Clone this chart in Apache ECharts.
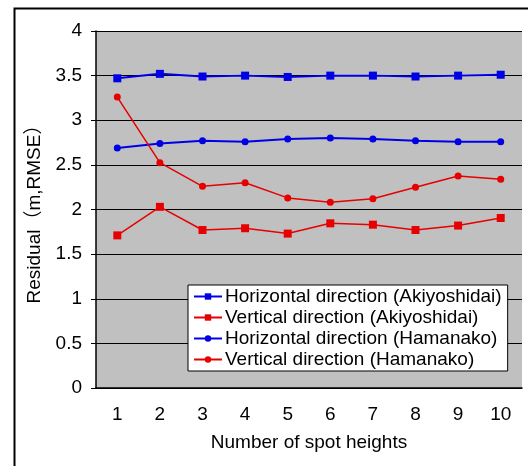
<!DOCTYPE html>
<html>
<head>
<meta charset="utf-8">
<script src="https://cdn.jsdelivr.net/npm/echarts@6/dist/echarts.min.js"></script>
<style>html,body{margin:0;padding:0;background:#fff}#c{width:528px;height:466px}</style>
</head>
<body>
<div id="c"></div>
<script>
var categories = ['1','2','3','4','5','6','7','8','9','10'];
var horizAkiyoshidai = [3.47, 3.52, 3.49, 3.50, 3.485, 3.50, 3.50, 3.49, 3.50, 3.51];
var vertAkiyoshidai = [1.71, 2.03, 1.77, 1.79, 1.73, 1.845, 1.83, 1.77, 1.82, 1.905];
var horizHamanako = [2.69, 2.74, 2.77, 2.76, 2.79, 2.80, 2.79, 2.77, 2.76, 2.76];
var vertHamanako = [3.26, 2.525, 2.26, 2.30, 2.13, 2.08, 2.12, 2.25, 2.375, 2.34];
var seriesNames = ['Horizontal direction (Akiyoshidai)', 'Vertical direction (Akiyoshidai)', 'Horizontal direction (Hamanako)', 'Vertical direction (Hamanako)'];
var yTicks = ['0','0.5','1','1.5','2','2.5','3','3.5','4'];

var FONT = '"Liberation Sans", Arial, "Noto Sans CJK JP", sans-serif';
var chart = echarts.init(document.getElementById('c'));
function mk(name, data, color, symbol, size, lw) {
  return {
    name: name, type: 'line', data: data, symbol: symbol, symbolSize: size,
    itemStyle: {color: color}, lineStyle: {color: color, width: lw},
    emphasis: {disabled: true}, animation: false, z: 3
  };
}
chart.setOption({
  animation: false,
  textStyle: {fontFamily: FONT},
  graphic: [{
    type: 'rect', left: 12, top: 6, z: -10,
    shape: {x: 0, y: 0, width: 600, height: 600},
    style: {fill: 'none', stroke: '#000', lineWidth: 2}
  }],
  grid: {left: 96, right: 6, top: 31, bottom: 78, backgroundColor: '#c0c0c0', show: true, borderWidth: 0},
  legend: {
    orient: 'vertical', left: 188, top: 285,
    backgroundColor: '#fff', borderColor: '#000', borderWidth: 1,
    padding: [2, 6, 2, 5], itemGap: 2, itemWidth: 28, itemHeight: 8,
    textStyle: {fontFamily: FONT, fontSize: 19, color: '#000', padding: [0, 0, 0, -2]},
    data: seriesNames.map(function(n){ return {name: n}; })
  },
  xAxis: {
    type: 'category', data: categories, boundaryGap: true,
    name: 'Number of spot heights', nameLocation: 'middle', nameGap: 45,
    nameTextStyle: {fontFamily: FONT, fontSize: 19, color: '#000'},
    axisLine: {lineStyle: {color: '#000', width: 1.5}},
    axisTick: {inside: true, length: 6, lineStyle: {color: '#000'}},
    axisLabel: {fontFamily: FONT, fontSize: 19, color: '#000', margin: 17},
    splitLine: {show: false}
  },
  yAxis: {
    type: 'value', min: 0, max: 4, interval: 0.5,
    name: 'Residual（m,RMSE）', nameLocation: 'middle', nameGap: 42,
    nameTextStyle: {fontFamily: FONT, fontSize: 19, color: '#000'},
    axisLine: {show: true, lineStyle: {color: '#000', width: 1.5}},
    axisTick: {show: true, length: 5, lineStyle: {color: '#000'}},
    axisLabel: {fontFamily: FONT, fontSize: 19, color: '#000', margin: 14,
      formatter: function(v){ return yTicks[Math.round(v*2)]; }},
    splitLine: {lineStyle: {color: '#000', width: 1}}
  },
  series: [
    mk(seriesNames[0], horizAkiyoshidai, '#0000e6', 'rect', 8, 2),
    mk(seriesNames[1], vertAkiyoshidai, '#e60000', 'rect', 8, 1.5),
    mk(seriesNames[2], horizHamanako, '#0000e6', 'circle', 7, 2),
    mk(seriesNames[3], vertHamanako, '#e60000', 'circle', 7, 1.5)
  ]
});
</script>
</body>
</html>
